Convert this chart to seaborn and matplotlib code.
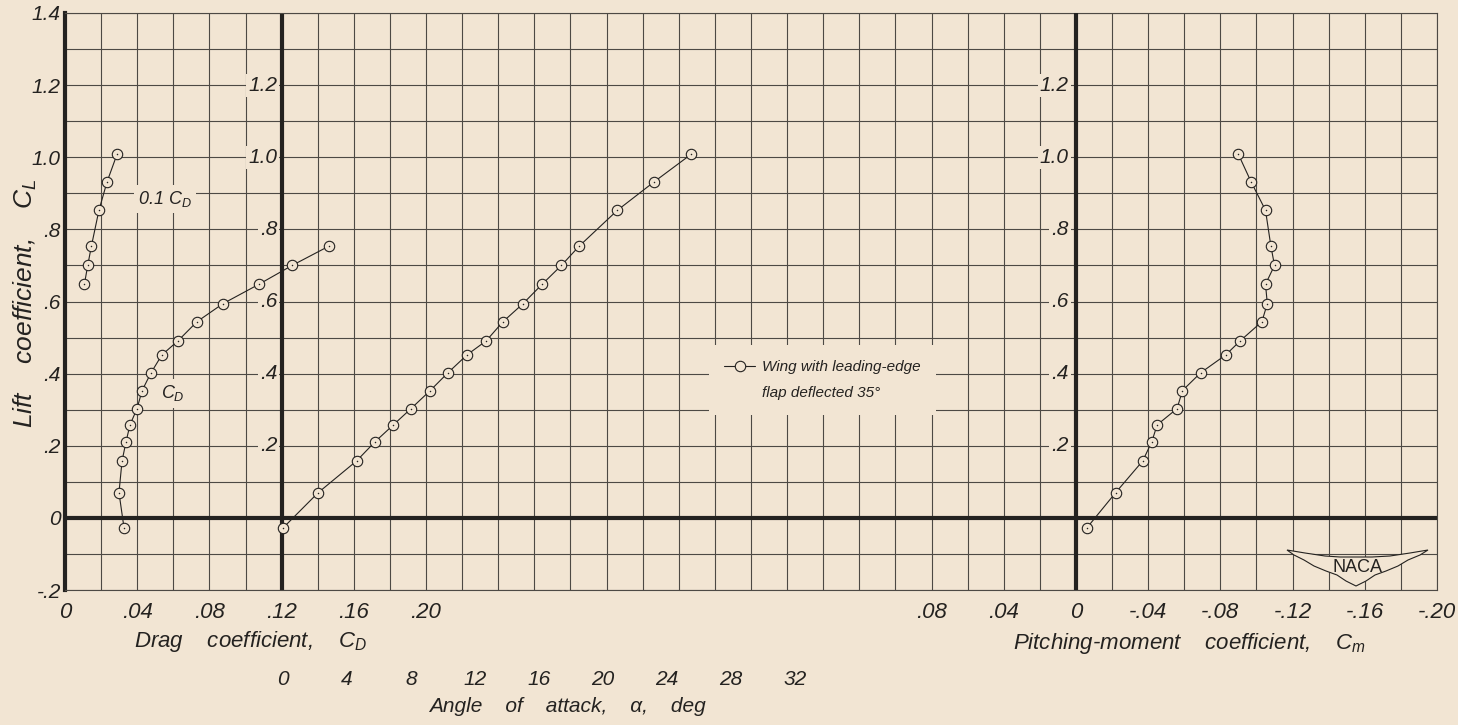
import matplotlib
matplotlib.use("Agg")
import matplotlib.pyplot as plt
import seaborn as sns
from matplotlib.ticker import MultipleLocator
from matplotlib.patches import Polygon
from matplotlib.lines import Line2D

# ---------------- data ----------------
lift_coef = [-0.028, 0.070, 0.158, 0.211, 0.258, 0.303, 0.353, 0.402, 0.452,
             0.491, 0.544, 0.594, 0.648, 0.700, 0.753, 0.853, 0.932, 1.008]
drag_coef = [0.0327, 0.0299, 0.0316, 0.0338, 0.0360, 0.0399, 0.0427, 0.0476,
             0.0537, 0.0626, 0.0731, 0.0875, 0.1075, 0.1258, 0.1460, 0.188,
             0.233, 0.288]
alpha_deg = [0.0, 2.2, 4.6, 5.75, 6.9, 8.0, 9.2, 10.3, 11.5, 12.7, 13.75,
             15.0, 16.2, 17.4, 18.5, 20.9, 23.2, 25.5]
moment_coef = [-0.006, -0.022, -0.037, -0.042, -0.045, -0.056, -0.059, -0.069,
               -0.083, -0.091, -0.103, -0.106, -0.105, -0.110, -0.108, -0.105,
               -0.097, -0.090]

cd_ticks = [0, 0.04, 0.08, 0.12, 0.16, 0.20]
cd_ticklabels = ["0", ".04", ".08", ".12", ".16", ".20"]
alpha_ticks = [0, 4, 8, 12, 16, 20, 24, 28, 32]
alpha_ticklabels = ["0", "4", "8", "12", "16", "20", "24", "28", "32"]
cm_ticks = [0.08, 0.04, 0, -0.04, -0.08, -0.12, -0.16, -0.20]
cm_ticklabels = [".08", ".04", "0", "-.04", "-.08", "-.12", "-.16", "-.20"]
cl_ticks = [-0.2, 0, 0.2, 0.4, 0.6, 0.8, 1.0, 1.2, 1.4]
cl_ticklabels = ["-.2", "0", ".2", ".4", ".6", ".8", "1.0", "1.2", "1.4"]
inner_cl_ticks = [0.2, 0.4, 0.6, 0.8, 1.0, 1.2]
inner_cl_labels = [".2", ".4", ".6", ".8", "1.0", "1.2"]

legend_lines = ["Wing with leading-edge", "flap deflected 35°"]

# ---------------- style ----------------
BG = "#f2e5d3"
INK = "#242220"
GRID = "#4d4944"

sns.set_theme(style="white")
plt.rcParams.update({
    "font.family": ["Liberation Sans", "DejaVu Sans"],
    "font.style": "italic",
    "mathtext.fontset": "custom",
    "mathtext.it": "Liberation Sans:italic",
    "mathtext.rm": "Liberation Sans:italic",
    "mathtext.sf": "Liberation Sans:italic",
    "figure.facecolor": BG,
    "axes.facecolor": BG,
    "text.color": INK,
    "xtick.color": INK,
    "ytick.color": INK,
})

fig = plt.figure(figsize=(14.58, 7.25), dpi=100)
ax = fig.add_axes([65 / 1458, 135 / 725, 1372 / 1458, 577 / 725])

# drag coefficient axis (primary)
ax.set_xlim(0, 0.76)
ax.set_ylim(-0.2, 1.4)
ax.set_xticks(cd_ticks, cd_ticklabels)
ax.set_yticks(cl_ticks, cl_ticklabels)
ax.xaxis.set_minor_locator(MultipleLocator(0.02))
ax.yaxis.set_minor_locator(MultipleLocator(0.1))
ax.grid(which="both", color=GRID, linewidth=0.8, zorder=0.5)
ax.tick_params(which="both", length=0)
ax.tick_params(axis="x", labelsize=16, pad=9)
ax.tick_params(axis="y", labelsize=15, pad=3)
for s in ["top", "right", "bottom"]:
    ax.spines[s].set_linewidth(0.8)
    ax.spines[s].set_color(GRID)
ax.spines["left"].set_linewidth(3.0)
ax.spines["left"].set_color(INK)

# heavy reference lines
ax.axhline(0, color=INK, linewidth=3.0, zorder=1.6)
ax.axvline(0.12, color=INK, linewidth=3.0, zorder=1.6)

line_kw = dict(color=INK, linewidth=0.8, marker="o", markersize=7.5,
               markerfacecolor=BG, markeredgecolor=INK, markeredgewidth=0.8)
dot_kw = dict(s=1.2, color=INK, linewidth=0, zorder=4)

# C_D curve and 0.1 C_D curve
sns.lineplot(x=drag_coef[:15], y=lift_coef[:15], ax=ax, sort=False,
             estimator=None, zorder=3, **line_kw)
sns.scatterplot(x=drag_coef[:15], y=lift_coef[:15], ax=ax, **dot_kw)
cd_tenth = [0.1 * v for v in drag_coef[12:]]
sns.lineplot(x=cd_tenth, y=lift_coef[12:], ax=ax, sort=False,
             estimator=None, zorder=3, **line_kw)
sns.scatterplot(x=cd_tenth, y=lift_coef[12:], ax=ax, **dot_kw)

ax.text(0.0405, 0.885, r"0.1 $C_D$", fontsize=13, ha="left", va="center",
        bbox=dict(facecolor=BG, edgecolor="none", pad=3), zorder=2.5)
ax.text(0.060, 0.345, r"$C_D$", fontsize=13, ha="center", va="center",
        bbox=dict(facecolor=BG, edgecolor="none", pad=3), zorder=2.5)

for v, lab in zip(inner_cl_ticks, inner_cl_labels):
    ax.text(0.1175, v, lab, fontsize=15, ha="right", va="center",
            bbox=dict(facecolor=BG, edgecolor="none", pad=1.5), zorder=2.5)

# angle of attack axis
ax_a = ax.twiny()
ax_a.set_xlim((65 - 283) / 16, (1437 - 283) / 16)
ax_a.xaxis.tick_bottom()
ax_a.set_xticks(alpha_ticks, alpha_ticklabels)
ax_a.tick_params(axis="x", length=0, labelsize=15, pad=57.5)
for s in ax_a.spines.values():
    s.set_visible(False)
sns.lineplot(x=alpha_deg, y=lift_coef, ax=ax_a, sort=False, estimator=None,
             zorder=3, label=legend_lines[0], **line_kw)
sns.scatterplot(x=alpha_deg, y=lift_coef, ax=ax_a, **dot_kw)

# pitching-moment axis
ax_m = ax.twiny()
ax_m.set_xlim(0.56, -0.20)
ax_m.xaxis.tick_bottom()
ax_m.set_xticks(cm_ticks, cm_ticklabels)
ax_m.tick_params(axis="x", length=0, labelsize=16, pad=9)
for s in ax_m.spines.values():
    s.set_visible(False)
ax_m.axvline(0, color=INK, linewidth=3.0, zorder=1.6)
sns.lineplot(x=moment_coef, y=lift_coef, ax=ax_m, sort=False, estimator=None,
             zorder=3, **line_kw)
sns.scatterplot(x=moment_coef, y=lift_coef, ax=ax_m, **dot_kw)
for v, lab in zip(inner_cl_ticks, inner_cl_labels):
    ax_m.text(0.004, v, lab, fontsize=15, ha="right", va="center",
              bbox=dict(facecolor=BG, edgecolor="none", pad=1.5), zorder=2.5)

# legend: first row carries the symbol, second row continues the text
handles, _ = ax_a.get_legend_handles_labels()
blank = Line2D([], [], linestyle="none", marker=None)
leg = ax_a.legend([handles[0], blank], legend_lines, loc="upper left",
                  bbox_to_anchor=((709 - 65) / 1372, (590 - 345) / 577),
                  borderaxespad=0, frameon=True, facecolor=BG,
                  edgecolor="none", framealpha=1, fancybox=False,
                  handlelength=2.0, handletextpad=0.45, borderpad=1.0,
                  labelspacing=0.75, fontsize=11)
leg.set_zorder(2.6)

# axis titles
ax.text(-0.029, (590 - 303) / 577, r"Lift    coefficient,    $C_L$",
        rotation=90, transform=ax.transAxes, ha="center", va="center",
        fontsize=19)
ax.text((250 - 65) / 1372, (590 - 641) / 577,
        r"Drag    coefficient,    $C_D$",
        transform=ax.transAxes, ha="center", va="center", fontsize=16)
ax.text((567 - 65) / 1372, (590 - 707) / 577,
        "Angle    of    attack,    α,    deg",
        transform=ax.transAxes, ha="center", va="center", fontsize=15)
ax.text((1190 - 65) / 1372, (590 - 644) / 577,
        r"Pitching-moment    coefficient,    $C_m$",
        transform=ax.transAxes, ha="center", va="center", fontsize=16)

# NACA emblem (decoration, axes-fraction coordinates)
logo_px = [(1287, 550), (1305, 553), (1325, 556), (1340, 557), (1356, 557),
           (1372, 557), (1390, 556), (1410, 553), (1428, 550), (1420, 555),
           (1408, 560), (1398, 566), (1386, 571), (1375, 575), (1366, 581),
           (1356, 586), (1346, 581), (1337, 575), (1326, 571), (1314, 566),
           (1304, 560), (1294, 555)]
logo = Polygon([((px - 65) / 1372, (590 - py) / 577) for px, py in logo_px],
               closed=True, transform=ax.transAxes, facecolor=BG,
               edgecolor=INK, linewidth=0.8, zorder=2.5)
ax.add_patch(logo)
ax.text((1357 - 65) / 1372, (590 - 567) / 577, "NACA", transform=ax.transAxes,
        ha="center", va="center", fontsize=13, style="normal", zorder=2.7)

fig.savefig("out.png", dpi=100, facecolor=BG)
